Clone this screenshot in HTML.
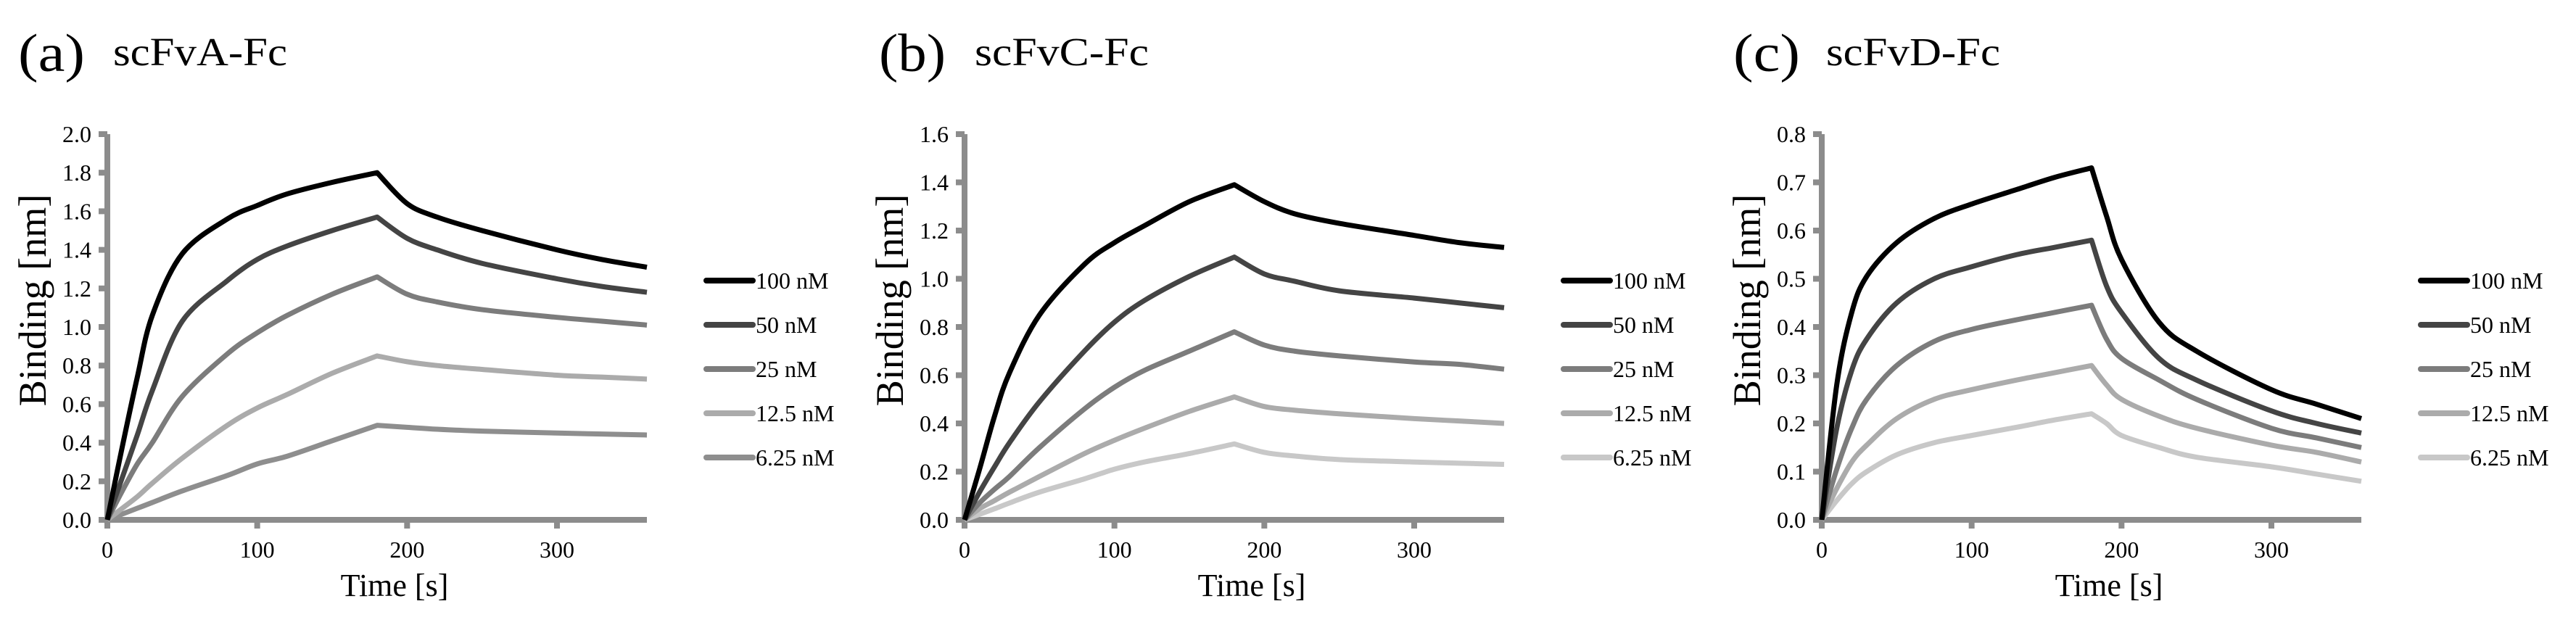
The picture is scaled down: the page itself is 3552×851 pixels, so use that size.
<!DOCTYPE html>
<html><head><meta charset="utf-8"><style>
html,body{margin:0;padding:0;background:#fff;}
svg{display:block;font-family:"Liberation Serif",serif;}
</style></head><body>
<svg id="fig" width="3552" height="851" viewBox="0 0 3552 851"></svg>
<script>
const NS="http://www.w3.org/2000/svg";
const concLabels=["100 nM","50 nM","25 nM","12.5 nM","6.25 nM"];
const xTicks=[0,100,200,300];
const timesA=[0,10,20,30,50,80,100,120,150,180,200,220,250,300,330,360];
const a100=[0,0.38,0.74,1.06,1.38,1.56,1.63,1.69,1.75,1.8,1.64,1.57,1.5,1.4,1.35,1.31];
const a50=[0,0.22,0.44,0.67,1.03,1.24,1.35,1.42,1.5,1.57,1.46,1.4,1.33,1.25,1.21,1.18];
const a25=[0,0.15,0.29,0.4,0.64,0.86,0.97,1.06,1.17,1.26,1.17,1.13,1.09,1.05,1.03,1.01];
const a12=[0,0.06,0.12,0.19,0.32,0.49,0.58,0.65,0.76,0.85,0.82,0.8,0.78,0.75,0.74,0.73];
const a6=[0,0.03,0.06,0.09,0.15,0.23,0.29,0.33,0.41,0.49,0.48,0.47,0.46,0.45,0.445,0.44];
const timesB=[0,10,20,30,50,80,100,120,150,180,200,220,250,300,330,360];
const b100=[0,0.21,0.43,0.61,0.85,1.06,1.15,1.22,1.32,1.39,1.32,1.27,1.23,1.18,1.15,1.13];
const b50=[0,0.115,0.22,0.32,0.49,0.7,0.82,0.91,1.01,1.09,1.02,0.99,0.95,0.92,0.9,0.88];
const b25=[0,0.07,0.127,0.18,0.3,0.46,0.55,0.62,0.7,0.78,0.725,0.7,0.68,0.655,0.645,0.625];
const b12=[0,0.046,0.08,0.115,0.18,0.275,0.33,0.38,0.45,0.51,0.47,0.455,0.44,0.42,0.41,0.4];
const b6=[0,0.023,0.046,0.07,0.115,0.17,0.21,0.24,0.275,0.315,0.28,0.265,0.25,0.24,0.235,0.23];
const timesC=[0,10,20,30,50,75,100,130,155,180,190,200,225,250,300,330,360];
const c100=[0,0.28,0.43,0.505,0.575,0.625,0.655,0.685,0.71,0.73,0.63,0.54,0.41,0.35,0.27,0.24,0.21];
const c50=[0,0.19,0.31,0.375,0.45,0.5,0.525,0.55,0.565,0.58,0.485,0.43,0.335,0.29,0.226,0.2,0.18];
const c25=[0,0.105,0.19,0.25,0.32,0.37,0.395,0.415,0.43,0.445,0.375,0.335,0.29,0.25,0.19,0.17,0.15];
const c12=[0,0.065,0.12,0.155,0.21,0.25,0.27,0.29,0.305,0.32,0.28,0.25,0.215,0.19,0.155,0.14,0.12];
const c6=[0,0.04,0.075,0.1,0.135,0.16,0.175,0.192,0.207,0.22,0.2,0.175,0.15,0.13,0.11,0.095,0.08];
const yTicksA=[0,0.2,0.4,0.6,0.8,1.0,1.2,1.4,1.6,1.8,2.0];
const yTicksB=[0,0.2,0.4,0.6,0.8,1.0,1.2,1.4,1.6];
const yTicksC=[0,0.1,0.2,0.3,0.4,0.5,0.6,0.7,0.8];
const svg=document.getElementById('fig');
function mk(tag,attrs,parent){const e=document.createElementNS(NS,tag);for(const k in attrs)e.setAttribute(k,attrs[k]);(parent||svg).appendChild(e);return e;}
const panels=[
 {id:'a',title:'scFvA-Fc',ox:0,lab:25,tit:156,ymax:2.0,ticks:yTicksA,times:timesA,series:[a100,a50,a25,a12,a6],cols:['#000','#444','#7c7c7c','#ababab','#8e8e8e']},
 {id:'b',title:'scFvC-Fc',ox:1182,lab:1212,tit:1344,ymax:1.6,ticks:yTicksB,times:timesB,series:[b100,b50,b25,b12,b6],cols:['#000','#444','#7c7c7c','#ababab','#c8c8c8']},
 {id:'c',title:'scFvD-Fc',ox:2364,lab:2390,tit:2518,ymax:0.8,ticks:yTicksC,times:timesC,series:[c100,c50,c25,c12,c6],cols:['#000','#444','#7c7c7c','#ababab','#c8c8c8']}
];
panels.forEach(p=>{
 const g=mk('g',{});
 
 
 const X0=148+p.ox, X1=892+p.ox, Y0=717, Y1=185;
 const xs=t=>X0+(X1-X0)*t/360;
 const ys=v=>Y0-(Y0-Y1)*v/p.ymax;
 const lab=mk('text',{x:p.lab,y:98,'font-size':74,textLength:92,lengthAdjust:'spacingAndGlyphs'},g);lab.textContent='('+p.id+')';
 
 
 const tt=mk('text',{x:p.tit,y:90,'font-size':55,textLength:240,lengthAdjust:'spacingAndGlyphs'},g);tt.textContent=p.title;
 
 
 const ax=mk('g',{stroke:'#8c8c8c','stroke-width':8},g);
 
 
 mk('line',{x1:X0,y1:Y0+4,x2:X0,y2:Y1},ax);
 mk('line',{x1:X0-4,y1:Y0,x2:X1,y2:Y0},ax);
 p.ticks.forEach(v=>{
  mk('line',{x1:X0-12,y1:ys(v),x2:X0,y2:ys(v)},ax);
  const t=mk('text',{x:X0-22,y:ys(v)+11,'font-size':32,'text-anchor':'end'},g);
  t.textContent=v.toFixed(1);
  
  
 });
 xTicks.forEach(v=>{
  mk('line',{x1:xs(v),y1:Y0,x2:xs(v),y2:Y0+12},ax);
  const t=mk('text',{x:xs(v),y:769,'font-size':32,'text-anchor':'middle'},g);
  t.textContent=v;
  
  
 });
 const xt=mk('text',{x:X0+396,y:822,'font-size':44,'text-anchor':'middle'},g);xt.textContent='Time [s]';
 
 
 const yt=mk('text',{x:0,y:0,'font-size':54,'text-anchor':'middle',transform:`translate(${63+p.ox},414) rotate(-90)`},g);yt.textContent='Binding [nm]';
 
 
 const T=p.times;
 for(let s=p.series.length-1;s>=0;s--){
  const vals=p.series[s];
  const pts=T.map((t,i)=>[xs(t),ys(vals[i])]);
  let d='M'+pts[0][0]+','+pts[0][1];
  for(let i=0;i<pts.length-1;i++){
   const p0=pts[Math.max(0,i-1)],p1=pts[i],p2=pts[i+1],p3=pts[Math.min(pts.length-1,i+2)];
   const q0=(T[i]===180)?p1:p0, q3=(T[i+1]===180)?p2:p3;
   const c1=[p1[0]+(p2[0]-q0[0])/6,p1[1]+(p2[1]-q0[1])/6];
   const c2=[p2[0]-(q3[0]-p1[0])/6,p2[1]-(q3[1]-p1[1])/6];
   d+=` C${c1[0]},${c1[1]} ${c2[0]},${c2[1]} ${p2[0]},${p2[1]}`;
  }
  const path=mk('path',{d:d,fill:'none',stroke:p.cols[s],'stroke-width':7,'stroke-linejoin':'round'},g);
  
  
 }
 const lx=X0+826, ly0=387;
 concLabels.forEach((c,i)=>{
  const y=ly0+i*61;
  const le=mk('g',{},g);
  
  
  mk('line',{x1:lx,y1:y,x2:lx+64,y2:y,stroke:p.cols[i],'stroke-width':8,'stroke-linecap':'round'},le);
  const t=mk('text',{x:lx+68,y:y+11,'font-size':32},le);t.textContent=c;
 });
});
</script>
</body></html>
